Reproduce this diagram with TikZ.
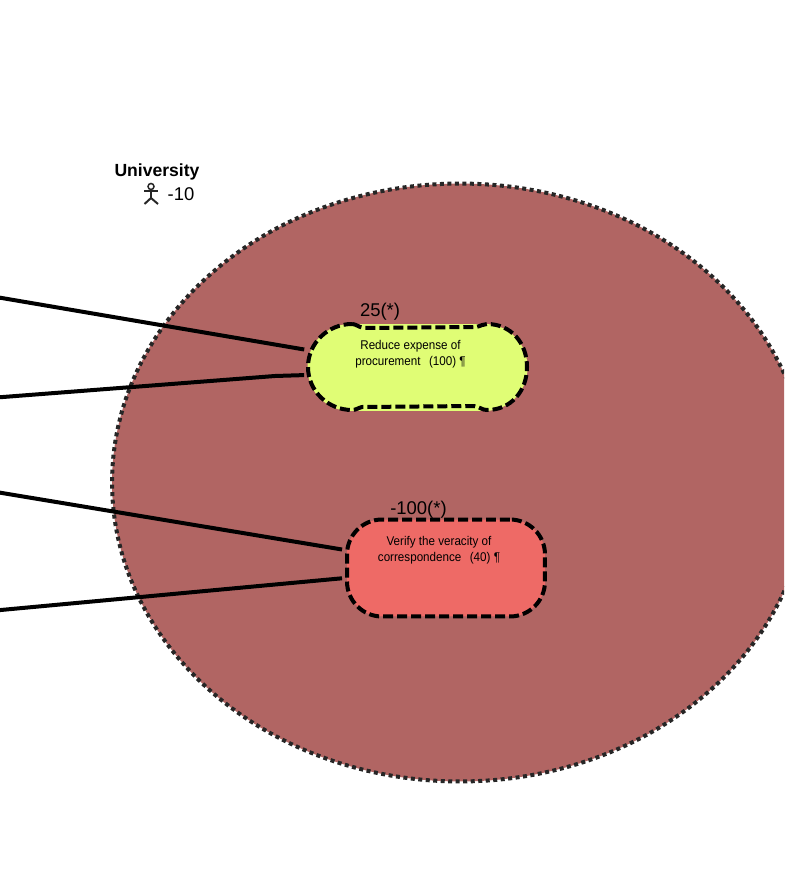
\documentclass[tikz,border=0pt]{standalone}
\usepackage{fontspec}
\setmainfont{Liberation Sans}
\newfontfamily\goalfont[FakeStretch=0.92]{Liberation Sans}
\usetikzlibrary{shapes,positioning}
\definecolor{scopered}{HTML}{B16563}
\definecolor{softyellow}{HTML}{E0FD75}
\definecolor{softred}{HTML}{EE6A66}
\tikzstyle{link} = [line width=0.08cm,black,shorten >=0.06cm]
\tikzstyle{goal} = [align=center, font=\goalfont\fontsize{7.2}{9.1}\selectfont, inner sep=0pt]
\tikzstyle{goaledge} = [draw, dash pattern=on 0.2cm off 0.08cm, line width=0.08cm]
\tikzstyle{scorelabel} = [font=\fontsize{10.5}{12}\selectfont, inner sep=0pt]
\tikzstyle{stick} = [black!85, line width=0.04cm]
\newcommand{\nudge}{\mbox{\hspace{0.28cm}}}

\begin{document}
\begin{tikzpicture}[x=0.02cm, y=-0.02cm]
        \clip (0,0) rectangle (784,888);
        % scope
        \node (scope) at (460,482.5) [draw=black!85, fill=scopered, ellipse, line width=0.08cm, dash pattern=on 0.08cm off 0.07cm, minimum width=13.92cm, minimum height=11.96cm, inner sep=0pt] {};
        % actor
        \node (actor) at (151,186.5) [draw=black!85, circle, line width=0.03cm, minimum size=0.12cm, inner sep=0pt] {};
        \coordinate (hip) at (151,198);
        \node (uni) at (157,172) [scorelabel, font=\bfseries\fontsize{10}{12}\selectfont] {University};
        \node (score) at (181,194.5) [scorelabel] {-10};
        \draw[stick] (actor) -- (hip);
        \draw[stick] (144,191.5) -- (158,191.5);
        \draw[stick] (144.5,204) -- (hip) -- (158,204);
        % goals
        \node (reduce) at (417.5,367.5) [goal, fill=softyellow, rounded corners=0.86cm, minimum width=4.4cm, minimum height=1.74cm] {Reduce expense of\nudge\\procurement\hspace{0.04cm}\ \ (100) ¶\nudge\\[0.27cm]\mbox{}};
        \draw[goaledge] (352,324) .. controls (356,324) and (358,327) .. (364,328) -- (476,327) .. controls (481,326) and (483,324) .. (487,324)
            .. controls (511,324) and (527,343) .. (527,367) .. controls (527,391) and (511,410) .. (487,410)
            .. controls (482,410) and (480,407) .. (474,406) -- (362,407) .. controls (358,408) and (356,410) .. (352,410)
            .. controls (328,410) and (308,391) .. (308,367) .. controls (308,343) and (328,324) .. (352,324);
        \node (verify) at (446,568) [goal, goaledge, fill=softred, rounded corners=0.7cm, minimum width=3.96cm, minimum height=1.94cm] {Verify the veracity of\nudge\\correspondence\hspace{0.04cm}\ \ (40) ¶\nudge\\[0.44cm]\mbox{}};
        \node (reducescore) at (380,312) [scorelabel] {25(*)};
        \node (verifyscore) at (418.5,510) [scorelabel] {-100(*)};
        % free ends
        \coordinate (a1) at (-10,296);
        \coordinate (a2) at (-10,398);
        \coordinate (a3) at (-10,491);
        \coordinate (a4) at (-10,611);
        % links
        \draw[link] (a1) -- ([yshift=0.35cm]reduce.west);
        \draw[link] (a2) -- (275,376) -- ([yshift=-0.15cm]reduce.west);
        \draw[link] (a3) -- ([yshift=0.36cm]verify.west);
        \draw[link] (a4) -- ([yshift=-0.2cm]verify.west);
    \end{tikzpicture}
\end{document}
